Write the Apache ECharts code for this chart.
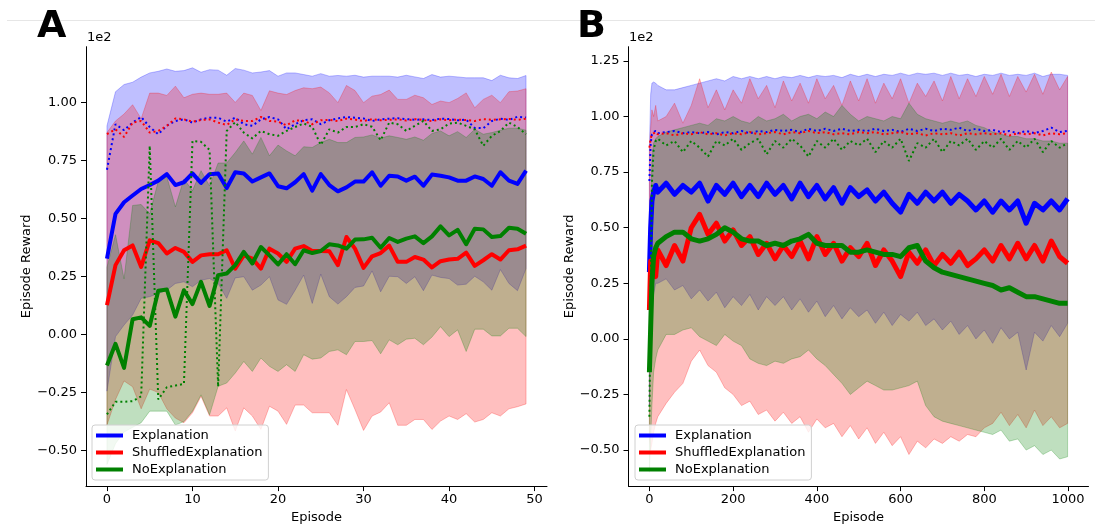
<!DOCTYPE html>
<html>
<head>
<meta charset="utf-8">
<script src="https://cdn.jsdelivr.net/npm/echarts@6/dist/echarts.min.js"></script>
<style>
  html, body { margin: 0; padding: 0; background: #fff; }
  #chart { width: 1095px; height: 529px; }
</style>
</head>
<body>
<div id="chart"></div>
<script>
var FONT = 'DejaVu Sans';
var names = ['Explanation', 'ShuffledExplanation', 'NoExplanation'];
var colors = ['#0000ff', '#ff0000', '#008000'];
var rgbs = ['0,0,255', '255,0,0', '0,128,0'];

// ---- panel A: 50 episodes (rewards, axis shows them in units of 1e2)
var episodesA = [];
for (var e = 0; e < 50; e++) episodesA.push(e);

var blueMeanA = [32.7, 52.0, 57.0, 59.9, 62.7, 64.4, 66.3, 69.1, 64.4, 65.6,
  69.4, 65.3, 69.1, 69.4, 63.1, 69.9, 69.4, 65.9, 67.7, 69.4,
  63.9, 63.0, 65.6, 69.1, 62.0, 69.1, 64.4, 61.7, 63.4, 65.9,
  65.9, 69.9, 64.1, 68.4, 68.1, 66.3, 68.0, 64.1, 68.9, 68.4,
  67.7, 66.3, 66.3, 68.1, 67.0, 64.1, 69.9, 66.3, 64.9, 70.6];
var redMeanA = [12.7, 29.9, 36.3, 38.4, 29.1, 40.6, 39.4, 34.9, 37.3, 35.6,
  31.3, 34.1, 34.6, 34.6, 36.3, 28.4, 34.1, 32.7, 28.4, 37.0,
  34.9, 31.3, 37.0, 38.1, 36.0, 36.0, 35.9, 29.9, 42.0, 37.0,
  28.7, 33.7, 35.1, 38.3, 31.3, 31.3, 33.4, 32.3, 28.9, 31.6,
  32.3, 32.6, 35.3, 29.6, 32.0, 34.6, 32.3, 36.3, 36.7, 38.3];
var greenMeanA = [-13.3, -4.0, -14.4, 6.6, 7.4, 3.7, 18.9, 19.4, 7.7, 19.1,
  13.1, 22.7, 12.3, 25.6, 26.3, 29.9, 35.6, 30.6, 37.7, 34.1,
  30.2, 34.6, 30.3, 36.3, 35.1, 36.0, 38.9, 38.4, 37.0, 40.9,
  41.0, 41.7, 37.4, 41.6, 39.9, 41.3, 42.3, 39.4, 42.3, 46.6,
  42.7, 45.1, 38.9, 45.6, 45.3, 42.0, 42.4, 46.0, 45.6, 43.4];

var blueDotA = [71.0, 90.6, 88.0, 91.3, 93.7, 89.4, 86.3, 89.9, 92.0, 92.7,
  91.3, 92.7, 93.4, 93.4, 91.7, 93.4, 90.6, 89.9, 92.7, 93.7,
  92.7, 88.4, 90.6, 92.3, 92.7, 90.6, 92.3, 93.1, 93.7, 93.4,
  93.1, 92.0, 92.7, 93.0, 93.2, 92.8, 92.5, 92.7, 92.4, 93.0,
  92.8, 92.3, 92.6, 89.0, 88.9, 92.0, 93.0, 92.5, 93.8, 93.5];
var redDotA = [86.3, 88.4, 85.1, 91.3, 92.0, 87.0, 87.7, 89.9, 93.1, 92.7,
  91.7, 92.4, 92.7, 91.3, 90.3, 92.7, 92.0, 92.0, 93.7, 92.0,
  91.7, 90.1, 92.3, 92.0, 90.6, 92.3, 92.5, 92.0, 93.0, 92.6,
  92.0, 92.8, 92.3, 92.5, 92.7, 92.2, 92.8, 92.4, 92.0, 92.7,
  92.3, 92.6, 92.4, 92.0, 92.8, 92.5, 92.7, 92.9, 92.5, 93.0];
var greenDotA = [-34.4, -29.0, -29.0, -28.7, -26.6, 81.3, -28.0, -22.7, -22.0, -21.3,
  83.4, 83.0, 79.5, -22.5, 87.7, 91.5, 87.0, 84.5, 87.7, 86.3,
  85.6, 87.7, 89.4, 90.9, 89.5, 81.7, 88.4, 87.0, 89.4, 89.4,
  90.6, 89.5, 83.7, 91.3, 90.6, 87.7, 89.9, 92.0, 87.7, 88.4,
  90.9, 91.3, 89.9, 88.4, 81.3, 85.6, 87.7, 91.3, 89.4, 86.3];

var blueHiA = [89.9, 104.6, 107.7, 108.7, 110.9, 112.7, 113.4, 114.4, 113.4, 113.7,
  114.9, 113.0, 114.1, 113.9, 111.7, 114.6, 113.9, 112.7, 113.1, 113.7,
  111.3, 112.7, 112.7, 112.0, 111.3, 112.4, 111.3, 111.6, 111.3, 111.7,
  110.9, 111.3, 111.3, 111.3, 110.9, 111.7, 111.0, 110.3, 112.0, 110.9,
  111.3, 111.0, 110.6, 110.6, 110.6, 109.4, 111.7, 110.6, 110.3, 111.6];
var blueLoA = [-24.4, -0.9, 4.1, 8.4, 15.6, 16.3, 17.7, 19.1, 22.0, 22.7,
  20.6, 23.4, 24.1, 22.0, 15.6, 24.4, 24.9, 19.1, 21.3, 24.9,
  14.9, 13.0, 19.1, 25.6, 13.4, 26.0, 16.3, 13.1, 16.3, 20.3,
  20.9, 27.4, 18.4, 25.1, 24.9, 22.0, 24.9, 18.9, 25.6, 24.6,
  24.1, 21.3, 21.7, 25.1, 22.7, 19.1, 28.0, 22.0, 18.9, 28.4];
var redHiA = [87.0, 92.0, 95.0, 99.0, 93.0, 104.0, 104.0, 103.0, 107.0, 102.0,
  103.5, 104.0, 103.5, 103.5, 104.0, 100.0, 104.0, 103.0, 96.5, 105.0,
  104.0, 103.4, 105.1, 106.3, 105.9, 106.6, 104.1, 99.9, 107.3, 105.1,
  99.9, 102.7, 103.4, 105.3, 101.3, 101.3, 103.1, 102.0, 99.1, 100.6,
  99.9, 101.7, 104.1, 97.7, 101.3, 103.1, 99.9, 104.6, 104.9, 105.9];
var redLoA = [-39.0, -28.0, -20.0, -22.5, -32.0, -23.5, -25.0, -32.0, -36.0, -38.0,
  -33.7, -26.6, -35.1, -35.1, -31.6, -41.6, -31.6, -35.1, -40.9, -30.9,
  -33.0, -38.7, -30.4, -30.4, -33.7, -33.7, -33.7, -39.1, -23.7, -32.3,
  -41.3, -35.1, -33.4, -29.4, -39.1, -39.1, -36.6, -36.6, -40.9, -37.3,
  -35.1, -36.6, -34.1, -37.7, -36.6, -33.7, -35.1, -32.0, -31.1, -29.9];
var greenHiA = [29.0, 43.0, 24.0, 55.6, 56.0, 52.0, 66.0, 68.0, 55.0, 67.0,
  62.0, 70.6, 64.0, 73.9, 73.9, 78.4, 83.4, 77.7, 84.9, 77.0,
  81.6, 79.1, 77.0, 80.9, 80.6, 82.7, 84.1, 82.7, 82.7, 84.9,
  85.1, 86.0, 84.6, 85.6, 84.9, 84.1, 85.1, 83.7, 86.6, 87.7,
  85.6, 87.4, 84.9, 88.4, 86.3, 87.0, 88.0, 88.9, 88.9, 88.0];
var greenLoA = [-56.0, -47.0, -42.0, -40.0, -38.0, -33.0, -33.0, -33.0, -39.0, -37.5,
  -33.0, -26.0, -34.6, -22.3, -20.9, -16.6, -11.6, -15.9, -10.1, -13.7,
  -15.9, -13.0, -15.9, -8.7, -10.6, -10.1, -7.3, -6.6, -8.7, -3.0,
  -3.0, -2.6, -8.3, -2.3, -4.4, -2.0, -1.6, -4.4, -1.1, 3.4,
  -0.9, 2.0, -7.3, 2.3, 2.3, -0.6, -0.6, 2.7, 2.7, -0.9];

var episodesB = [0, 3, 6, 10, 15, 20,
  40, 60, 80, 100, 120, 140, 160, 180, 200,
  220, 240, 260, 280, 300, 320, 340, 360, 380, 400,
  420, 440, 460, 480, 500, 520, 540, 560, 580, 600,
  620, 640, 660, 680, 700, 720, 740, 760, 780, 800,
  820, 840, 860, 880, 900, 920, 940, 960, 980,
  999];

var blueMeanB = [30, 50, 62, 66, 69, 66,
  70, 65, 69, 66, 70, 62, 69, 65, 70,
  64, 69, 64, 70, 65, 69, 63, 70, 64, 69,
  63, 68, 61, 68, 64, 67, 62, 66, 61, 57,
  65, 61, 66, 62, 66, 61, 65, 62, 58, 62,
  57, 62, 58, 62, 52, 61, 58, 62, 58,
  63];
var redMeanB = [13, 35, 30, 36, 28, 40,
  33, 42, 35, 50, 56, 47, 52, 44, 49,
  42, 46, 38, 43, 36, 42, 37, 44, 36, 46,
  38, 43, 35, 41, 37, 43, 33, 40, 35, 28,
  39, 34, 40, 33, 38, 34, 39, 33, 36, 40,
  35, 42, 36, 43, 36, 42, 35, 44, 37,
  34];
var greenMeanB = [-15, 5, 25, 37, 41, 43,
  46, 48, 48, 45, 44, 45, 47, 50, 48,
  45, 44, 44, 42, 43, 42, 44, 45, 47, 43,
  42, 42, 42, 39, 39, 40, 39, 38, 38, 37,
  41, 42, 35, 32, 30, 29, 28, 27, 26, 25,
  24, 22, 23, 21, 19, 19, 18, 17, 16,
  16];

var blueDotB = [71, 88, 92, 93, 93.5, 92.5,
  93, 93.5, 92.5, 93, 92.5, 93, 92, 93, 92.5,
  93.5, 92.5, 93.5, 93, 94, 93.5, 94, 93, 94.5, 93.5,
  94.5, 93.5, 94.5, 93.5, 94, 93.5, 94.5, 93.5, 94, 93,
  94.5, 93.5, 94.5, 93.5, 94.5, 94, 95, 93.5, 94.5, 93.5,
  94, 93, 93.5, 92.5, 93.5, 92.5, 93.5, 95, 93,
  93.5];
var redDotB = [86, 90, 92, 92.5, 93, 92,
  92.5, 91.5, 92.5, 92, 93, 92, 92.5, 91.5, 92.5,
  92, 93, 92, 92.5, 93, 92, 93, 92.5, 93.5, 92.5,
  93, 92, 92.5, 92, 93, 92.5, 93, 92, 92.5, 93,
  92, 92.5, 91.5, 92.5, 92, 92.5, 91.5, 92.5, 92, 92.5,
  92, 92.5, 91.5, 92.5, 92, 92.5, 91.5, 92.5, 92,
  92.5];
var greenDotB = [-35, 20, 70, 85, 89, 90,
  87, 89, 84, 89, 86, 82, 89, 87, 90,
  85, 88, 90, 83, 89, 86, 90, 87, 82, 89,
  86, 90, 85, 89, 87, 90, 84, 89, 86, 90,
  80, 88, 86, 90, 84, 89, 87, 90, 85, 89,
  86, 90, 85, 89, 86, 90, 84, 89, 86,
  88];

var blueHiB = [85, 110, 115, 115.5, 115, 114,
  112, 112, 113, 114, 115, 116, 117, 116, 118,
  117, 118, 117, 118, 117, 118, 117.5, 118.5, 117.5, 118.5,
  118, 118.5, 117.5, 119, 118, 119, 118, 119, 118.5, 119.5,
  118.5, 119.5, 119, 119.5, 118.5, 119.5, 118.5, 119, 118, 119,
  118.5, 119.5, 118.5, 119, 118.5, 119.5, 118, 119, 119,
  118.5];
var blueLoB = [-30, -5, 10, 20, 25, 25,
  27, 22, 24, 18, 22, 17, 21, 14, 19,
  15, 20, 13, 19, 15, 19, 13, 18, 12, 17,
  10, 15, 9, 14, 10, 13, 7, 12, 6, 11,
  8, 12, 6, 9, 4, 8, 2, 6, 0, 4,
  -2, 5, 0, 3, -14, 3, -1, 6, 1,
  7];
var redHiB = [86, 95, 103, 100, 105, 98,
  100, 106, 97, 105, 117, 104, 112, 103, 112,
  106, 117, 108, 114, 104, 116, 107, 115, 106, 117,
  108, 114, 105, 116, 107, 117, 106, 115, 108, 117,
  106, 115, 109, 116, 107, 118, 108, 117, 109, 118,
  110, 119, 109, 118, 111, 119, 110, 120, 112,
  118];
var redLoB = [-45, -50, -47, -42, -38, -35,
  -29, -24, -20, -10, -5, -12, -15, -22, -25,
  -30, -28, -34, -32, -37, -33, -38, -35, -42, -36,
  -40, -38, -44, -39, -45, -40, -47, -42, -48, -44,
  -52, -46, -49, -45, -47, -44, -46, -43, -44, -40,
  -38, -33, -39, -34, -40, -32, -39, -35, -40,
  -38];
var greenHiB = [5, 55, 80, 88, 90, 91,
  93, 94, 95, 96, 97, 96, 99, 98, 100,
  98, 97, 100, 98, 99, 101, 98, 100, 101, 99,
  102, 100, 105, 101, 98, 100, 99, 98, 100, 99,
  106, 101, 99, 98, 97, 98, 97, 98, 96, 95,
  93, 92, 91, 91, 90, 90, 89, 89, 88,
  88];
var greenLoB = [-60, -45, -30, -15, -9, -5,
  2, 2, 4, 5, 1, -1, -3, 2, -1,
  -3, -9, -11, -12, -10, -11, -9, -8, -5, -9,
  -12, -16, -20, -25, -22, -19, -21, -23, -23, -22,
  -21, -19, -30, -35, -37, -38, -39, -40, -41, -42,
  -43, -41, -46, -45, -50, -48, -52, -50, -54,
  -53];

var ticksYA = [-50, -25, 0, 25, 50, 75, 100];
var ticksYB = [-50, -25, 0, 25, 50, 75, 100, 125];
var ticksXA = [0, 10, 20, 30, 40, 50];
var ticksXB = [0, 200, 400, 600, 800, 1000];

function pairs(xs, ys) {
  return xs.map(function (x, i) { return [x, ys[i]]; });
}

function yLabel(v) {
  return (v / 100).toFixed(2).replace('-', '\u2212');
}

// filled band between lo and hi, drawn as one polygon through the axes
function band(axis, xs, lo, hi, k) {
  return {
    type: 'custom',
    name: names[k] + ' band',
    xAxisIndex: axis,
    yAxisIndex: axis,
    silent: true,
    data: xs.map(function (x, i) { return [x, lo[i], hi[i]]; }),
    encode: { x: 0, y: [1, 2] },
    renderItem: function (params, api) {
      if (params.dataIndex !== 0) return;
      var pts = [];
      for (var i = 0; i < xs.length; i++) pts.push(api.coord([xs[i], hi[i]]));
      for (var j = xs.length - 1; j >= 0; j--) pts.push(api.coord([xs[j], lo[j]]));
      return {
        type: 'polygon',
        shape: { points: pts },
        style: {
          fill: 'rgba(' + rgbs[k] + ',0.25)',
          stroke: 'rgba(' + rgbs[k] + ',0.25)',
          lineWidth: 1
        }
      };
    }
  };
}

function meanLine(axis, xs, ys, k, w) {
  return {
    type: 'line', name: names[k], xAxisIndex: axis, yAxisIndex: axis,
    data: pairs(xs, ys), showSymbol: false, symbol: 'none', silent: true,
    itemStyle: { color: colors[k] },
    lineStyle: { color: colors[k], width: w, join: 'round' }
  };
}

function dotLine(axis, xs, ys, k) {
  return {
    type: 'line', name: names[k] + ' best', xAxisIndex: axis, yAxisIndex: axis,
    data: pairs(xs, ys), showSymbol: false, symbol: 'none', silent: true,
    lineStyle: { color: colors[k], width: 2, type: [2, 3] }
  };
}

function xAxisOpt(idx, min, max, ticks) {
  return {
    type: 'value', gridIndex: idx, min: min, max: max,
    name: 'Episode', nameLocation: 'middle', nameGap: 23,
    nameTextStyle: { fontFamily: FONT, fontSize: 13, color: '#000' },
    splitLine: { show: false },
    axisLine: { onZero: false, lineStyle: { color: '#000', width: 1 } },
    axisTick: { length: 5, lineStyle: { color: '#000' }, customValues: ticks },
    axisLabel: {
      customValues: ticks, margin: 7, fontFamily: FONT, fontSize: 13, color: '#000',
      formatter: function (v) { return String(v); }
    }
  };
}

function yAxisOpt(idx, min, max, ticks) {
  return {
    type: 'value', gridIndex: idx, min: min, max: max,
    name: 'Episode Reward', nameLocation: 'middle', nameGap: 50,
    nameTextStyle: { fontFamily: FONT, fontSize: 13, color: '#000' },
    splitLine: { show: false },
    axisLine: { show: true, onZero: false, lineStyle: { color: '#000', width: 1 } },
    axisTick: { show: true, length: 5, lineStyle: { color: '#000' }, customValues: ticks },
    axisLabel: { customValues: ticks, margin: 9, fontFamily: FONT, fontSize: 13, color: '#000', formatter: yLabel }
  };
}

function legendOpt(left) {
  return {
    left: left, top: 425, orient: 'vertical',
    data: names, icon: 'rect', itemWidth: 27, itemHeight: 4, itemGap: 4,
    padding: [4, 6, 4, 4],
    backgroundColor: 'rgba(255,255,255,0.8)',
    borderColor: '#d0d0d0', borderWidth: 1, borderRadius: 3,
    textStyle: { fontFamily: FONT, fontSize: 13, color: '#000', padding: [0, 0, 0, 4] },
    selectedMode: false
  };
}

var series = [];
var bandsA = [[blueLoA, blueHiA], [redLoA, redHiA], [greenLoA, greenHiA]];
var bandsB = [[blueLoB, blueHiB], [redLoB, redHiB], [greenLoB, greenHiB]];
var meansA = [blueMeanA, redMeanA, greenMeanA];
var meansB = [blueMeanB, redMeanB, greenMeanB];
var dotsA = [blueDotA, redDotA, greenDotA];
var dotsB = [blueDotB, redDotB, greenDotB];

for (var k = 0; k < 3; k++) series.push(band(0, episodesA, bandsA[k][0], bandsA[k][1], k));
for (var k = 0; k < 3; k++) series.push(band(1, episodesB, bandsB[k][0], bandsB[k][1], k));
for (var k = 0; k < 3; k++) {
  series.push(meanLine(0, episodesA, meansA[k], k, 4));
  series.push(dotLine(0, episodesA, dotsA[k], k));
  series.push(meanLine(1, episodesB, meansB[k], k, 5));
  series.push(dotLine(1, episodesB, dotsB[k], k));
}

var chart = echarts.init(document.getElementById('chart'), null, { renderer: 'canvas' });
chart.setOption({
  animation: false,
  backgroundColor: '#fff',
  grid: [
    { left: 86, top: 46.7, width: 461, height: 440 },
    { left: 628.5, top: 46.7, width: 460, height: 440 }
  ],
  xAxis: [
    xAxisOpt(0, -2.45, 51.45, ticksXA),
    xAxisOpt(1, -49.95, 1048.95, ticksXB)
  ],
  yAxis: [
    yAxisOpt(0, -65.3, 124.0, ticksYA),
    yAxisOpt(1, -66.2, 131.4, ticksYB)
  ],
  legend: [legendOpt(92), legendOpt(635)],
  graphic: [
    { type: 'line', shape: { x1: 7, y1: 20.5, x2: 1095, y2: 20.5 }, style: { stroke: '#e6e6e6', lineWidth: 1 } },
    { type: 'text', x: 37, y: 27, style: { text: 'A', fontFamily: FONT, fontSize: 38, fontWeight: 'bold', fill: '#000', verticalAlign: 'middle' } },
    { type: 'text', x: 577, y: 27, style: { text: 'B', fontFamily: FONT, fontSize: 38, fontWeight: 'bold', fill: '#000', verticalAlign: 'middle' } },
    { type: 'text', x: 87, y: 38, style: { text: '1e2', fontFamily: FONT, fontSize: 13, fill: '#000', verticalAlign: 'middle' } },
    { type: 'text', x: 629, y: 38, style: { text: '1e2', fontFamily: FONT, fontSize: 13, fill: '#000', verticalAlign: 'middle' } }
  ],
  series: series
});
</script>
</body>
</html>
